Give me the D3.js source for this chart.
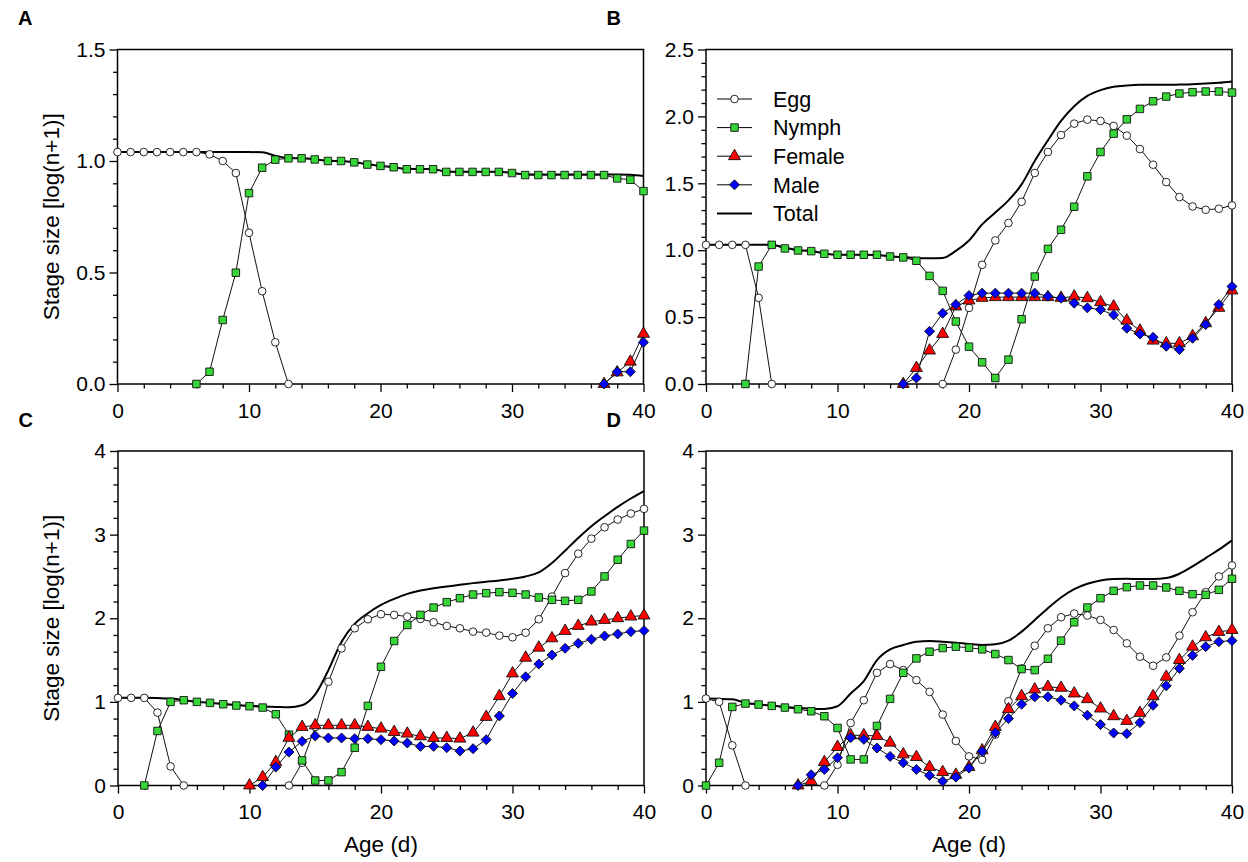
<!DOCTYPE html>
<html>
<head>
<meta charset="utf-8">
<script src="https://cdn.jsdelivr.net/npm/d3@7"></script>
<style>
  html, body { margin: 0; padding: 0; background: #fff; }
  svg text { font-family: "Liberation Sans", Arial, sans-serif; fill: #000; }
</style>
</head>
<body>
<svg id="chart" width="1248" height="862"></svg>
<script>
// Values, one entry per day (0..40); _ = not plotted
const _ = null;
const days = d3.range(0, 41);

const stageNames = ['Egg', 'Nymph', 'Female', 'Male', 'Total'];

// Panel A
const eggA = [1.04, 1.04, 1.04, 1.04, 1.04, 1.04, 1.04, 1.03, 1.0, 0.946, 0.678, 0.416, 0.187, 0,
  _, _, _, _, _, _, _, _, _, _, _, _, _, _, _, _, _, _, _, _, _, _, _, _, _, _, _];
const nymphA = [_, _, _, _, _, _, 0, 0.055, 0.287, 0.499, 0.856, 0.97, 1.006, 1.012, 1.012, 1.007,
  1.0, 1.0, 0.994, 0.984, 0.978, 0.972, 0.963, 0.963, 0.963, 0.951, 0.951, 0.951, 0.951, 0.951,
  0.946, 0.937, 0.937, 0.937, 0.937, 0.937, 0.937, 0.937, 0.922, 0.916, 0.865];
const femaleA = [_, _, _, _, _, _, _, _, _, _, _, _, _, _, _, _, _, _, _, _, _, _, _, _, _, _, _,
  _, _, _, _, _, _, _, _, _, _, 0, 0.052, 0.1, 0.225];
const maleA = [_, _, _, _, _, _, _, _, _, _, _, _, _, _, _, _, _, _, _, _, _, _, _, _, _, _, _,
  _, _, _, _, _, _, _, _, _, _, 0, 0.055, 0.055, 0.187];
const totalA = [1.04, 1.04, 1.04, 1.04, 1.04, 1.04, 1.04, 1.04, 1.04, 1.04, 1.04, 1.039, 1.024,
  1.013, 1.012, 1.008, 1.001, 1.0, 0.995, 0.985, 0.978, 0.972, 0.965, 0.964, 0.963, 0.953, 0.952,
  0.952, 0.952, 0.952, 0.947, 0.94, 0.94, 0.94, 0.94, 0.94, 0.94, 0.94, 0.94, 0.938, 0.933];

// Panel B
const eggB = [1.04, 1.04, 1.04, 1.04, 0.644, 0, _, _, _, _, _, _, _, _, _, _, _, _, 0, 0.257, 0.569,
  0.891, 1.073, 1.203, 1.362, 1.577, 1.734, 1.861, 1.946, 1.976, 1.966, 1.929, 1.856, 1.756, 1.639,
  1.509, 1.397, 1.327, 1.302, 1.31, 1.335];
const nymphB = [_, _, _, 0, 0.878, 1.04, 1.013, 0.998, 0.993, 0.973, 0.966, 0.966, 0.966, 0.966,
  0.953, 0.946, 0.921, 0.808, 0.696, 0.467, 0.279, 0.162, 0.045, 0.182, 0.484, 0.803, 1.01, 1.153,
  1.325, 1.552, 1.734, 1.871, 1.978, 2.056, 2.113, 2.148, 2.171, 2.181, 2.186, 2.186, 2.178];
const femaleB = [_, _, _, _, _, _, _, _, _, _, _, _, _, _, _, 0, 0.12, 0.25, 0.374, 0.579, 0.624,
  0.644, 0.649, 0.649, 0.649, 0.649, 0.649, 0.644, 0.654, 0.641, 0.611, 0.579, 0.474, 0.399, 0.324,
  0.304, 0.304, 0.357, 0.454, 0.569, 0.699];
const maleB = [_, _, _, _, _, _, _, _, _, _, _, _, _, _, _, 0, 0.045, 0.394, 0.529, 0.594, 0.661,
  0.679, 0.679, 0.679, 0.679, 0.679, 0.656, 0.641, 0.604, 0.569, 0.556, 0.516, 0.417, 0.374, 0.349,
  0.282, 0.257, 0.342, 0.444, 0.594, 0.729];
const totalB = [1.04, 1.04, 1.04, 1.04, 1.04, 1.04, 1.02, 1.0, 0.995, 0.975, 0.966, 0.966, 0.966,
  0.964, 0.955, 0.948, 0.942, 0.94, 0.942, 0.995, 1.073, 1.193, 1.282, 1.372, 1.492, 1.667, 1.821,
  1.966, 2.076, 2.153, 2.196, 2.221, 2.231, 2.236, 2.236, 2.236, 2.238, 2.241, 2.246, 2.251, 2.261];

// Panel C
const eggC = [1.048, 1.048, 1.048, 0.872, 0.228, 0, _, _, _, _, _, _, _, 0, 0.272, 0.7, 1.24, 1.64,
  1.88, 1.988, 2.048, 2.04, 2.02, 1.992, 1.952, 1.908, 1.88, 1.84, 1.828, 1.792, 1.772, 1.828,
  1.988, 2.26, 2.54, 2.772, 2.952, 3.088, 3.18, 3.252, 3.308];
const nymphC = [_, _, 0, 0.652, 1.0, 1.02, 1.0, 0.988, 0.972, 0.956, 0.948, 0.932, 0.852, 0.608,
  0.3, 0.06, 0.06, 0.16, 0.452, 0.952, 1.42, 1.728, 1.92, 2.04, 2.128, 2.192, 2.24, 2.284, 2.3,
  2.312, 2.304, 2.284, 2.248, 2.22, 2.208, 2.22, 2.32, 2.5, 2.7, 2.888, 3.048];
const femaleC = [_, _, _, _, _, _, _, _, _, _, 0, 0.1, 0.28, 0.57, 0.7, 0.72, 0.72, 0.72, 0.72, 0.7,
  0.68, 0.64, 0.62, 0.588, 0.568, 0.568, 0.56, 0.632, 0.82, 1.068, 1.34, 1.528, 1.648, 1.76, 1.848,
  1.908, 1.96, 1.98, 2.0, 2.02, 2.032];
const maleC = [_, _, _, _, _, _, _, _, _, _, _, 0, 0.22, 0.4, 0.528, 0.592, 0.568, 0.568, 0.56, 0.56,
  0.548, 0.532, 0.508, 0.468, 0.468, 0.452, 0.412, 0.44, 0.548, 0.832, 1.1, 1.3, 1.452, 1.56, 1.64,
  1.7, 1.748, 1.788, 1.812, 1.84, 1.852];
const totalC = [1.048, 1.048, 1.048, 1.045, 1.04, 1.02, 1.0, 0.988, 0.975, 0.962, 0.955, 0.945,
  0.94, 0.935, 0.96, 1.09, 1.38, 1.72, 1.932, 2.06, 2.16, 2.232, 2.292, 2.332, 2.36, 2.38, 2.4,
  2.42, 2.436, 2.452, 2.472, 2.5, 2.548, 2.66, 2.808, 2.96, 3.1, 3.22, 3.332, 3.432, 3.52];

// Panel D
const eggD = [1.04, 1.0, 0.48, 0, _, _, _, _, _, 0, 0.248, 0.748, 1.02, 1.348, 1.452, 1.38, 1.26,
  1.12, 0.848, 0.532, 0.348, 0.308, 0.608, 1.008, 1.4, 1.672, 1.88, 2.012, 2.056, 2.032, 1.98, 1.86,
  1.7, 1.54, 1.432, 1.532, 1.792, 2.072, 2.312, 2.5, 2.632];
const nymphD = [0, 0.272, 0.94, 0.98, 0.968, 0.952, 0.932, 0.912, 0.888, 0.828, 0.688, 0.312, 0.312,
  0.712, 1.036, 1.348, 1.52, 1.6, 1.644, 1.66, 1.648, 1.628, 1.572, 1.5, 1.392, 1.38, 1.516, 1.732,
  1.952, 2.128, 2.24, 2.328, 2.372, 2.392, 2.392, 2.368, 2.328, 2.288, 2.28, 2.34, 2.472];
const femaleD = [_, _, _, _, _, _, _, 0, 0.052, 0.28, 0.46, 0.6, 0.6, 0.592, 0.512, 0.372, 0.34, 0.22,
  0.16, 0.128, 0.22, 0.42, 0.7, 0.912, 1.068, 1.148, 1.18, 1.168, 1.1, 1.032, 0.92, 0.828, 0.772,
  0.868, 1.068, 1.3, 1.5, 1.66, 1.772, 1.836, 1.86];
const maleD = [_, _, _, _, _, _, _, 0, 0.128, 0.192, 0.332, 0.572, 0.552, 0.448, 0.348, 0.272, 0.192,
  0.12, 0.052, 0.1, 0.208, 0.408, 0.632, 0.8, 0.972, 1.06, 1.06, 1.02, 0.952, 0.84, 0.728, 0.628,
  0.62, 0.752, 0.96, 1.192, 1.4, 1.556, 1.66, 1.72, 1.732];
const totalD = [1.04, 1.036, 1.03, 0.99, 0.97, 0.955, 0.94, 0.928, 0.918, 0.915, 0.948, 1.1, 1.248,
  1.5, 1.628, 1.68, 1.72, 1.728, 1.72, 1.708, 1.692, 1.68, 1.688, 1.732, 1.84, 1.98, 2.12, 2.248,
  2.348, 2.412, 2.452, 2.468, 2.472, 2.468, 2.468, 2.48, 2.532, 2.62, 2.72, 2.82, 2.932];

// Axis ticks
const xMajorTicks = [0, 10, 20, 30, 40];
const yMajorTicksA = [0, 0.5, 1.0, 1.5];
const yMajorTicksB = [0, 0.5, 1.0, 1.5, 2.0, 2.5];
const yMajorTicksCD = [0, 1, 2, 3, 4];

const panels = [
  { letter: 'A', left: 117.5, top: 49.5, yMax: 1.5, yTicks: yMajorTicksA, yMinor: 0.1, yFmt: '.1f',
    series: [eggA, nymphA, femaleA, maleA], total: totalA, yTitle: true, xTitle: false, legend: false },
  { letter: 'B', left: 706, top: 49.5, yMax: 2.5, yTicks: yMajorTicksB, yMinor: 0.1, yFmt: '.1f',
    series: [eggB, nymphB, femaleB, maleB], total: totalB, yTitle: false, xTitle: false, legend: true },
  { letter: 'C', left: 118, top: 451, yMax: 4, yTicks: yMajorTicksCD, yMinor: 0.2, yFmt: 'd',
    series: [eggC, nymphC, femaleC, maleC], total: totalC, yTitle: true, xTitle: true, legend: false },
  { letter: 'D', left: 706, top: 451, yMax: 4, yTicks: yMajorTicksCD, yMinor: 0.2, yFmt: 'd',
    series: [eggD, nymphD, femaleD, maleD], total: totalD, yTitle: false, xTitle: true, legend: false }
];

const plotW = 526;
const plotH = 334.5;

// Marker style per stage (egg, nymph, female, male)
const markerStyles = [
  { type: d3.symbolCircle, size: 46, fill: '#ffffff', rotate: 0 },
  { type: d3.symbolSquare, size: 56, fill: '#36d636', rotate: 0 },
  { type: d3.symbolTriangle, size: 62, fill: '#ff0000', rotate: 0 },
  { type: d3.symbolSquare, size: 50, fill: '#0000ff', rotate: 45 }
];

const svg = d3.select('#chart');

/**
 * Draw one marker + connecting line series.
 */
const drawSeries = (g, values, style, x, y) => {
  const pts = days.map((d, i) => ({ d, v: values[i] }));

  const line = d3.line()
    .defined(p => p.v !== null)
    .x(p => x(p.d))
    .y(p => y(p.v));

  g.append('path')
    .datum(pts)
    .attr('fill', 'none')
    .attr('stroke', '#111')
    .attr('stroke-width', 1)
    .attr('d', line);

  g.selectAll(null)
    .data(pts.filter(p => p.v !== null))
    .join('path')
    .attr('transform', p => `translate(${x(p.d)},${y(p.v)}) rotate(${style.rotate})`)
    .attr('d', d3.symbol(style.type, style.size))
    .attr('fill', style.fill)
    .attr('stroke', '#111')
    .attr('stroke-width', 0.9);
};

panels.forEach(p => {
  const x = d3.scaleLinear().domain([0, 40]).range([p.left, p.left + plotW]);
  const y = d3.scaleLinear().domain([0, p.yMax]).range([p.top + plotH, p.top]);

  const g = svg.append('g');

  // Minor ticks
  const xMinor = d3.range(0, 41, 2).filter(v => !xMajorTicks.includes(v));
  g.append('g')
    .attr('transform', `translate(0,${p.top + plotH})`)
    .call(d3.axisBottom(x).tickValues(xMinor).tickSize(4.5).tickFormat(''))
    .call(a => a.select('.domain').remove())
    .selectAll('line').attr('stroke-width', 1.3);

  const yMinorVals = d3.range(0, Math.round(p.yMax / p.yMinor) + 1)
    .map(i => +(i * p.yMinor).toFixed(2))
    .filter(v => !p.yTicks.some(t => Math.abs(t - v) < 1e-6));
  g.append('g')
    .attr('transform', `translate(${p.left},0)`)
    .call(d3.axisLeft(y).tickValues(yMinorVals).tickSize(4.5).tickFormat(''))
    .call(a => a.select('.domain').remove())
    .selectAll('line').attr('stroke-width', 1.3);

  // Major ticks
  const xAxis = g.append('g')
    .attr('transform', `translate(0,${p.top + plotH})`)
    .call(d3.axisBottom(x).tickValues(xMajorTicks).tickSize(8).tickPadding(11));
  xAxis.select('.domain').remove();
  xAxis.selectAll('line').attr('stroke-width', 1.3);
  xAxis.selectAll('text')
    .style('font-size', '21px')
    .attr('fill', '#000');

  const yAxis = g.append('g')
    .attr('transform', `translate(${p.left},0)`)
    .call(d3.axisLeft(y).tickValues(p.yTicks).tickSize(8).tickPadding(4)
      .tickFormat(d3.format(p.yFmt)));
  yAxis.select('.domain').remove();
  yAxis.selectAll('line').attr('stroke-width', 1.3);
  yAxis.selectAll('text')
    .style('font-size', '21px')
    .attr('fill', '#000');

  // Frame
  g.append('rect')
    .attr('x', p.left)
    .attr('y', p.top)
    .attr('width', plotW)
    .attr('height', plotH)
    .attr('fill', 'none')
    .attr('stroke', '#000')
    .attr('stroke-width', 1.5);

  // Total line
  const totalLine = d3.line()
    .x((v, i) => x(days[i]))
    .y(v => y(v))
    .curve(d3.curveMonotoneX);

  g.append('path')
    .datum(p.total)
    .attr('fill', 'none')
    .attr('stroke', '#000')
    .attr('stroke-width', 2)
    .attr('d', totalLine);

  p.series.forEach((values, i) => drawSeries(g, values, markerStyles[i], x, y));

  // Panel letter
  svg.append('text')
    .attr('x', p.left - 99.5)
    .attr('y', p.top - 24.5)
    .style('font-size', '20px')
    .style('font-weight', 'bold')
    .text(p.letter);

  if (p.yTitle) {
    svg.append('text')
      .attr('transform', `translate(${p.left - 59},${p.top + plotH / 2}) rotate(-90)`)
      .attr('text-anchor', 'middle')
      .style('font-size', '22.5px')
      .text('Stage size [log(n+1)]');
  }

  if (p.xTitle) {
    svg.append('text')
      .attr('x', p.left + plotW / 2)
      .attr('y', 852)
      .attr('text-anchor', 'middle')
      .style('font-size', '22.5px')
      .text('Age (d)');
  }

  if (p.legend) {
    const lg = svg.append('g').attr('transform', 'translate(717,99)');
    stageNames.forEach((name, i) => {
      const row = lg.append('g').attr('transform', `translate(0,${i * 28.6})`);
      row.append('line')
        .attr('x1', 0).attr('x2', 35)
        .attr('stroke', '#000')
        .attr('stroke-width', i === 4 ? 2 : 1);
      if (i < 4) {
        const s = markerStyles[i];
        row.append('path')
          .attr('transform', `translate(17.5,0) rotate(${s.rotate})`)
          .attr('d', d3.symbol(s.type, s.size))
          .attr('fill', s.fill)
          .attr('stroke', '#111')
          .attr('stroke-width', 0.9);
      }
      row.append('text')
        .attr('x', 56)
        .attr('dy', '0.36em')
        .style('font-size', '21.5px')
        .text(name);
    });
  }
});
</script>
</body>
</html>
